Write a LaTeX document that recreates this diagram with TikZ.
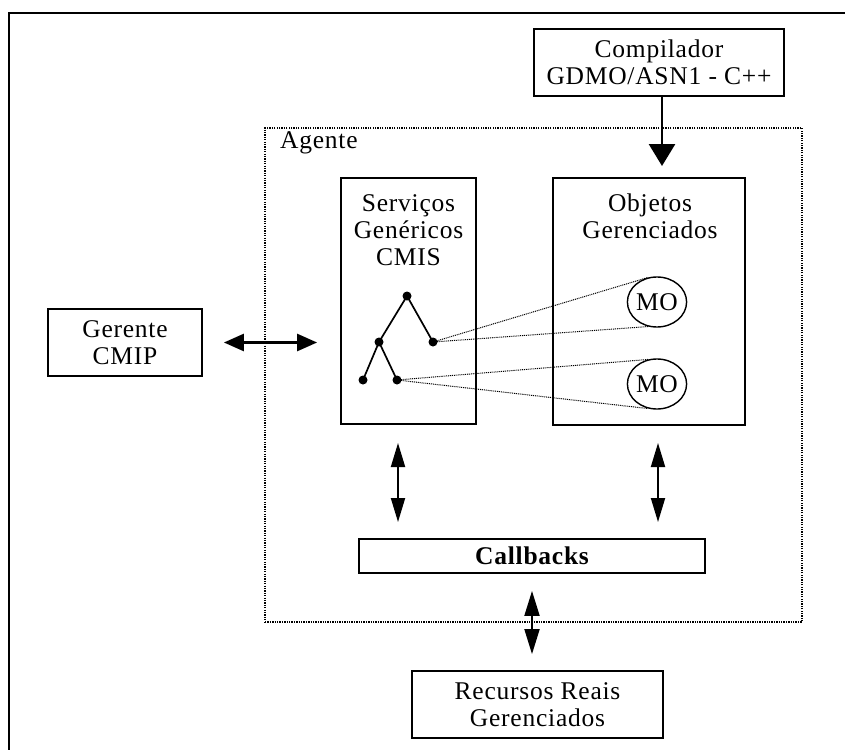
\documentclass[tikz,border=0pt]{standalone}
\usepackage{fontspec}
\setmainfont[LetterSpace=3]{Liberation Serif}
\usetikzlibrary{arrows.meta,shapes.geometric,calc}
\begin{document}
\begin{tikzpicture}[x=1pt,y=-1pt,
  every node/.style={font=\fontsize{25.5}{27}\selectfont, inner sep=0pt, align=center},
  box/.style={draw, line width=1.8pt, rectangle},
  dotbox/.style={draw, line width=1.4pt, dash pattern=on 1.3pt off 1.1pt, rectangle},
  treeedge/.style={line width=1.7pt},
  dotnode/.style={circle, fill, inner sep=0pt, minimum size=9pt},
  link/.style={line width=1pt, dash pattern=on 1pt off 0.9pt},
  mo/.style={draw, ellipse, line width=1.4pt, minimum width=58pt, minimum height=50pt},
  biarrow/.style={line width=1.9pt, {Triangle[length=24pt,width=14pt]}-{Triangle[length=24pt,width=14pt]}}
]
\useasboundingbox (0,0) rectangle (845,749);
\fill[white] (0,0) rectangle (845,749);
% outer frame (cropped)
\draw[line width=1.8pt] (9,760) -- (9,13) -- (860,13);

% agent region
\node[dotbox, minimum width=537pt, minimum height=494pt] (agente) at (533.5,375) {};
\node[anchor=base west] (agentelbl) at (280,148) {Agente};

% boxes
\node[box, minimum width=250pt, minimum height=67pt] (comp) at (659,62.5) {};
\node (comptxt) at (659,62) {Compilador\\GDMO/ASN1 - C++};

\node[box, minimum width=135pt, minimum height=246pt] (serv) at (408.5,301) {};
\node[anchor=north] (servtxt) at (408.5,194) {Serviços\\Genéricos\\CMIS};

\node[box, minimum width=192pt, minimum height=247pt] (obj) at (649,301.5) {};
\node[anchor=north] (objtxt) at (650,194) {Objetos\\Gerenciados};

\node[box, minimum width=154pt, minimum height=67pt] (ger) at (125,342.5) {Gerente\\CMIP};

\node[box, minimum width=346pt, minimum height=34pt, font=\fontsize{25.5}{27}\selectfont\bfseries] (cb) at (532,556) {Callbacks};

\node[box, minimum width=251pt, minimum height=67pt] (rec) at (537.5,704.5) {Recursos Reais\\Gerenciados};

% managed objects
\node[mo] (mo1) at (657,302) {MO};
\node[mo] (mo2) at (657,384) {MO};

% tree
\node[dotnode] (t0) at (407,296) {};
\node[dotnode] (t1) at (379,342) {};
\node[dotnode] (t2) at (433,342) {};
\node[dotnode] (t3) at (363,380) {};
\node[dotnode] (t4) at (397,380) {};
\draw[treeedge] (t0.center) -- (t1.center);
\draw[treeedge] (t0.center) -- (t2.center);
\draw[treeedge] (t1.center) -- (t3.center);
\draw[treeedge] (t1.center) -- (t4.center);

% dotted links
\draw[link] (t2.center) -- (mo1.110);
\draw[link] (t2.center) -- (mo1.250);
\draw[link] (t4.center) -- (mo2.110);
\draw[link] (t4.center) -- (mo2.250);

% arrows
\coordinate (ctip) at (662,166);
\draw[line width=2.8pt, -{Triangle[length=22pt,width=26pt]}] (comp.south -| ctip) -- (ctip);

\draw[line width=2.6pt, {Triangle[length=20pt,width=17pt]}-{Triangle[length=20pt,width=17pt]}, shorten <=21pt, shorten >=23pt] (ger.east) -- (serv.west |- ger.east);

\coordinate (la) at (398,443);
\coordinate (lb) at (398,522);
\draw[biarrow] (la) -- (lb);
\coordinate (ra) at (658,443);
\coordinate (rb) at (658,522);
\draw[biarrow] (ra) -- (rb);
\draw[line width=1.9pt, {Triangle[length=25pt,width=15pt]}-{Triangle[length=25pt,width=15pt]}, shorten <=17pt, shorten >=16pt] (cb.south -| 532,0) -- (rec.north -| 532,0);
\end{tikzpicture}
\end{document}
